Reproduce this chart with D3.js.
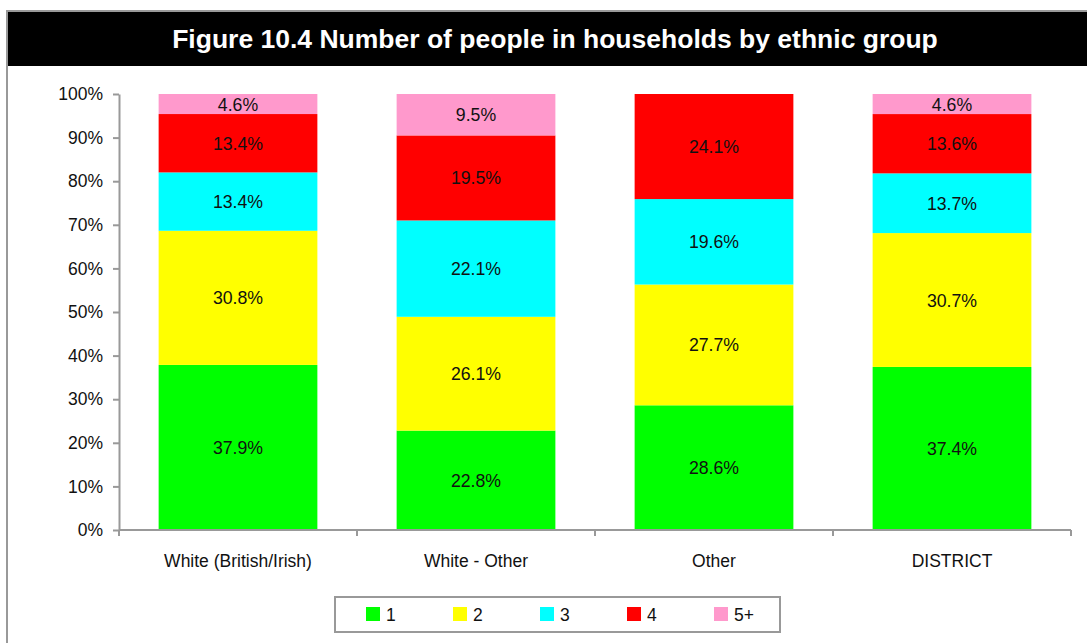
<!DOCTYPE html>
<html><head><meta charset="utf-8">
<script src="https://cdn.jsdelivr.net/npm/d3@7"></script>
<style>body{margin:0;background:#fff;}svg{display:block;font-family:"Liberation Sans",Arial,sans-serif;}</style>
</head><body>
<svg id="c" width="1087" height="643"></svg>
<script>
const categories = ["White (British/Irish)", "White - Other", "Other", "DISTRICT"];
const seriesNames = ["1", "2", "3", "4", "5+"];
const seriesColors = ["#00ff00", "#ffff00", "#00ffff", "#ff0000", "#ff99cc"];
const s1 = [37.9, 22.8, 28.6, 37.4];
const s2 = [30.8, 26.1, 27.7, 30.7];
const s3 = [13.4, 22.1, 19.6, 13.7];
const s4 = [13.4, 19.5, 24.1, 13.6];
const s5 = [4.6, 9.5, 0, 4.6];
const yTicks = [0,10,20,30,40,50,60,70,80,90,100];
const title = "Figure 10.4 Number of people in households by ethnic group";

const svg = d3.select("#c");
// outer frame
svg.append("rect").attr("x",7).attr("y",11).attr("width",1090).attr("height",640)
  .attr("fill","#fff").attr("stroke","#999").attr("stroke-width",2);
svg.append("rect").attr("x",8).attr("y",12).attr("width",1079).attr("height",54).attr("fill","#000");
svg.append("text").attr("x",555).attr("y",48).attr("text-anchor","middle")
  .attr("fill","#fff").attr("font-weight","bold").attr("font-size",26.5).text(title);

const series = [s1,s2,s3,s4,s5];
const rows = categories.map((c,i)=>{
  const o = {cat:c};
  const tot = d3.sum(series, s=>s[i]);
  seriesNames.forEach((n,j)=>{ o[n] = series[j][i]/tot*100; o["raw"+n]=series[j][i]; });
  return o;
});
const stack = d3.stack().keys(seriesNames)(rows);

const x = d3.scaleBand().domain(categories).range([119,1071]).paddingInner(0.333).paddingOuter(0.1665);
const y = d3.scaleLinear().domain([0,100]).range([530,94]);

const g = svg.append("g");
stack.forEach((layer,j)=>{
  g.selectAll(null).data(layer).enter().append("rect")
    .attr("x",d=>x(d.data.cat)).attr("width",x.bandwidth())
    .attr("y",d=>y(d[1])).attr("height",d=>y(d[0])-y(d[1]))
    .attr("fill",seriesColors[j]);
  g.selectAll(null).data(layer.filter(d=>d.data["raw"+seriesNames[j]]>0)).enter().append("text")
    .attr("x",d=>x(d.data.cat)+x.bandwidth()/2).attr("y",d=>(y(d[0])+y(d[1]))/2+6.5)
    .attr("text-anchor","middle").attr("font-size",17.7).attr("fill","#111")
    .text(d=>d.data["raw"+seriesNames[j]].toFixed(1)+"%");
});

// y axis
const ya = svg.append("g").attr("transform","translate(119,0)")
  .call(d3.axisLeft(y).tickValues(yTicks).tickFormat(d=>d+"%").tickSize(6).tickSizeOuter(0));
ya.select(".domain").attr("stroke","#999").attr("stroke-width",2);
ya.selectAll(".tick line").attr("stroke","#999").attr("stroke-width",2);
ya.selectAll(".tick text").attr("font-size",17.5).attr("fill","#111").attr("x",-16)
  .attr("font-family","Liberation Sans, Arial, sans-serif");

// x axis
const xa = svg.append("g").attr("transform","translate(0,530)")
  .call(d3.axisBottom(x).tickSize(0).tickPadding(25));
xa.select(".domain").attr("stroke","#999").attr("stroke-width",2).attr("d","M119,0H1071");
xa.selectAll(".tick text").attr("font-size",17.5).attr("fill","#111")
  .attr("font-family","Liberation Sans, Arial, sans-serif");
const bounds = [0,1,2,3,4].map(i=>119+i*(1071-119)/4);
xa.selectAll(".bt").data(bounds).enter().append("line")
  .attr("x1",d=>d).attr("x2",d=>d).attr("y1",0).attr("y2",6)
  .attr("stroke","#999").attr("stroke-width",2);

// legend
const lg = svg.append("g");
lg.append("rect").attr("x",335).attr("y",597).attr("width",445).attr("height",35)
  .attr("fill","#fff").attr("stroke","#999").attr("stroke-width",2);
seriesNames.forEach((n,j)=>{
  const lx = 366 + j*87;
  lg.append("rect").attr("x",lx).attr("y",607).attr("width",14).attr("height",14).attr("fill",seriesColors[j]);
  lg.append("text").attr("x",lx+20).attr("y",621).attr("font-size",17.5).attr("fill","#111").text(n);
});
</script>
</body></html>
